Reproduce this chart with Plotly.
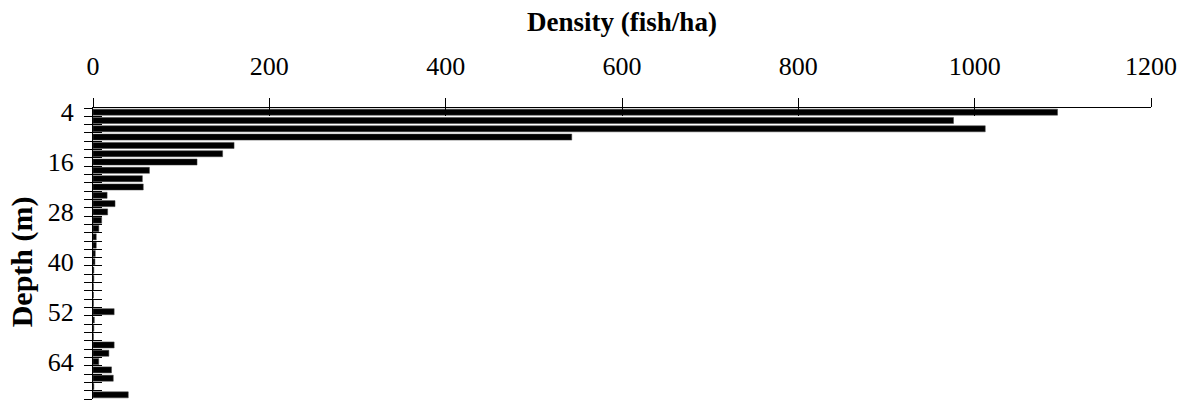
import plotly.graph_objects as go

depths = [4, 6, 8, 10, 12, 14, 16, 18, 20, 22, 24, 26, 28, 30, 32, 34, 36, 38,
          40, 42, 44, 46, 48, 50, 52, 54, 56, 58, 60, 62, 64, 66, 68, 70, 72]
density = [1094, 976, 1012, 543, 160, 147, 118, 64, 56, 57, 16, 25, 16.6, 9.8, 6.6, 3.7, 3.7, 2.6,
           2.2, 1.0, 1.0, 0.5, 0.5, 0.5, 24, 1.5, 1.0, 0.5, 24, 18, 6.5, 21, 23, 1.0, 40]
x_ticks = [0, 200, 400, 600, 800, 1000, 1200]
y_labels = [4, 16, 28, 40, 52, 64]

step = depths[1] - depths[0]
y_lo = depths[0] - step / 2
y_hi = depths[-1] + step / 2
boundaries = [y_lo + step * i for i in range(len(depths) + 1)]

FONT = "Liberation Serif, Times New Roman, serif"

fig = go.Figure()
fig.add_trace(go.Bar(
    x=density, y=depths, orientation="h", width=1.45,
    marker=dict(color="black", line=dict(color="#444", width=0.5)),
    showlegend=False,
))
# dummy traces to carry the helper axes (tick marks crossing the axis lines)
fig.add_trace(go.Scatter(x=[None], y=[None], xaxis="x2", yaxis="y2", showlegend=False, hoverinfo="skip"))
fig.add_trace(go.Scatter(x=[None], y=[None], xaxis="x", yaxis="y3", showlegend=False, hoverinfo="skip"))

xr = [x_ticks[0], x_ticks[-1]]
yr = [y_hi, y_lo]

fig.update_layout(
    width=1182, height=403,
    margin=dict(l=93, r=31, t=108, b=4),
    paper_bgcolor="white", plot_bgcolor="white",
    font=dict(family=FONT, color="black"),
    xaxis=dict(
        side="top", range=xr, tickvals=x_ticks, showgrid=False, zeroline=False,
        showline=True, linecolor="black", linewidth=1,
        ticks="outside", ticklen=9, tickcolor="black", tickwidth=1,
        tickfont=dict(size=26, family=FONT), ticklabelstandoff=13,
        title=dict(text="<b>Density (fish/ha)</b>", font=dict(size=27, family=FONT), standoff=12),
    ),
    xaxis2=dict(
        overlaying="x", side="top", range=xr, tickvals=x_ticks, showgrid=False, zeroline=False,
        showline=False, showticklabels=False, ticks="inside", ticklen=8, tickcolor="black",
        anchor="y2",
    ),
    yaxis=dict(
        range=yr, tickvals=y_labels, showgrid=False, zeroline=False,
        showline=True, linecolor="black", linewidth=1,
        ticks="", tickfont=dict(size=26, family=FONT), ticklabelstandoff=13,
    ),
    yaxis2=dict(
        overlaying="y", range=yr, tickvals=boundaries, showgrid=False, zeroline=False,
        showline=False, showticklabels=False, ticks="outside", ticklen=8, tickcolor="black",
        anchor="x2",
    ),
    yaxis3=dict(
        overlaying="y", range=yr, tickvals=boundaries, showgrid=False, zeroline=False,
        showline=False, showticklabels=False, ticks="inside", ticklen=9, tickcolor="black",
        anchor="x",
    ),
    annotations=[dict(
        text="<b>Depth (m)</b>", textangle=-90, showarrow=False,
        xref="paper", yref="paper", x=-0.067, y=0.47, xanchor="center", yanchor="middle",
        font=dict(size=30, family=FONT),
    )],
    bargap=0.25,
)

fig.write_html("out.html")
